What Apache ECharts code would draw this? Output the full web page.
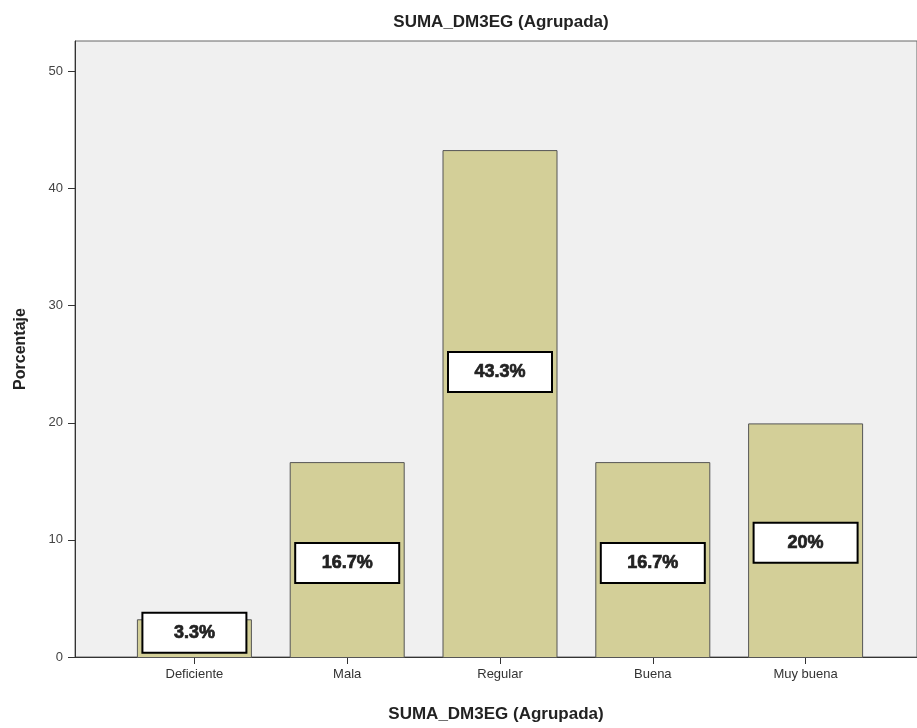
<!DOCTYPE html>
<html>
<head>
<meta charset="UTF-8">
<title>SUMA_DM3EG (Agrupada)</title>
<script src="https://cdn.jsdelivr.net/npm/echarts@6/dist/echarts.min.js"></script>
<style>
  html, body { margin: 0; padding: 0; background: #fff; }
  #chart { width: 917px; height: 728px; }
</style>
</head>
<body>
<div id="chart"></div>
<script>
// datos
const categorias = ['Deficiente', 'Mala', 'Regular', 'Buena', 'Muy buena'];
const porcentajes = [3.3, 16.7, 43.3, 16.7, 20];
const etiquetas = ['3.3%', '16.7%', '43.3%', '16.7%', '20%'];
const ticksY = [0, 10, 20, 30, 40, 50];

// desplazamiento vertical de cada etiqueta (px), como en SPSS
const desplazamiento = [-6, 3, -32, 3, 2];

const fuente = '"Liberation Sans", Arial, sans-serif';
const yMax = 52.6;

const chart = echarts.init(document.getElementById('chart'));

chart.setOption({
  animation: false,
  title: {
    text: 'SUMA_DM3EG (Agrupada)',
    left: 496,
    top: 9,
    textAlign: 'center',
    textStyle: { fontFamily: fuente, fontSize: 17, fontWeight: 'bold', color: '#222' }
  },
  grid: [
    // marco del área de trazado
    { left: 75, right: 0, top: 41, bottom: 70, show: true,
      backgroundColor: '#f0f0f0', borderColor: '#666', borderWidth: 1 },
    // zona de las barras
    { left: 118, right: 35, top: 41, bottom: 70 }
  ],
  xAxis: [
    {
      gridIndex: 0, type: 'value', min: 0, max: 1,
      name: 'SUMA_DM3EG (Agrupada)', nameLocation: 'middle', nameGap: 49,
      nameTextStyle: { fontFamily: fuente, fontSize: 17, fontWeight: 'bold', color: '#222' },
      axisLine: { show: true, lineStyle: { color: '#333', width: 1 } },
      axisTick: { show: false }, axisLabel: { show: false }, splitLine: { show: false }
    },
    {
      gridIndex: 1, type: 'category', data: categorias,
      axisLine: { show: false },
      axisTick: { show: true, alignWithLabel: true, length: 6, lineStyle: { color: '#333' } },
      axisLabel: { fontFamily: fuente, fontSize: 13, color: '#333', margin: 10 }
    }
  ],
  yAxis: [
    {
      gridIndex: 0, type: 'value', min: 0, max: yMax,
      name: 'Porcentaje', nameLocation: 'middle', nameGap: 46,
      nameTextStyle: { fontFamily: fuente, fontSize: 16, fontWeight: 'bold', color: '#222' },
      axisLine: { show: true, lineStyle: { color: '#333', width: 1 } },
      axisTick: { show: true, length: 7, customValues: ticksY, lineStyle: { color: '#333' } },
      axisLabel: {
        fontFamily: fuente, fontSize: 13, color: '#444', margin: 12,
        customValues: ticksY
      },
      splitLine: { show: false }
    },
    { gridIndex: 1, type: 'value', min: 0, max: yMax, show: false }
  ],
  series: [
    {
      type: 'bar',
      xAxisIndex: 1,
      yAxisIndex: 1,
      barWidth: 115,
      itemStyle: { color: '#d3cf98', borderColor: '#555', borderWidth: 1 },
      label: {
        show: true,
        position: 'inside',
        formatter: p => '{t|' + etiquetas[p.dataIndex] + '}',
        backgroundColor: '#fff', borderColor: '#000', borderWidth: 2,
        width: 102, height: 38, align: 'center', padding: 0,
        rich: {
          t: {
            fontFamily: fuente, fontSize: 18, fontWeight: 'bold', color: '#222',
            textBorderColor: '#222', textBorderWidth: 0.7,
            lineHeight: 38, width: 102, align: 'center'
          }
        }
      },
      data: porcentajes.map((v, i) => ({
        value: v,
        label: { offset: [0, desplazamiento[i]] }
      }))
    }
  ]
});
</script>
</body>
</html>
